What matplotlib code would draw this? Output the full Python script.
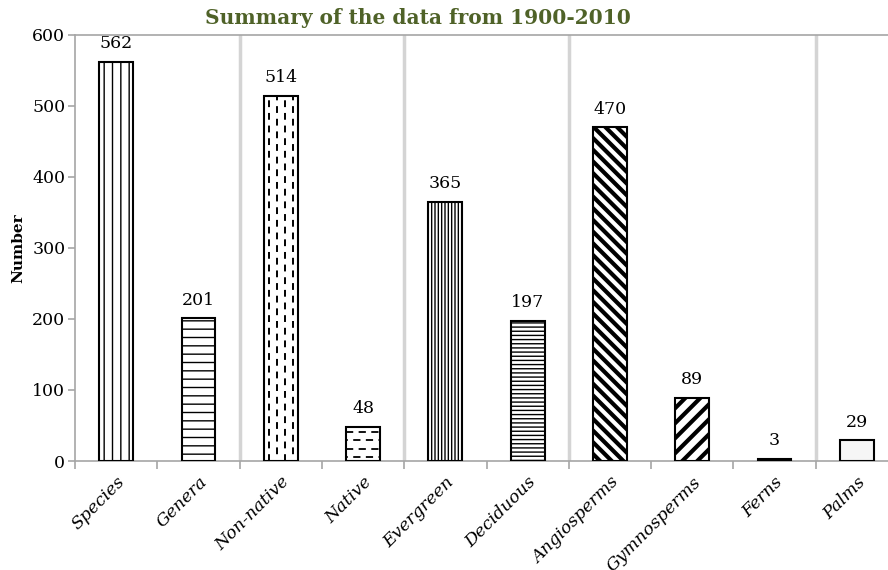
import matplotlib
matplotlib.use("Agg")
import matplotlib.pyplot as plt
import numpy as np

categories = ["Species", "Genera", "Non-native", "Native", "Evergreen",
              "Deciduous", "Angiosperms", "Gymnosperms", "Ferns", "Palms"]
values = [562, 201, 514, 48, 365, 197, 470, 89, 3, 29]
hatches = ["||", "--", "", "", "|||||", "----", "", "", "", ""]
title = "Summary of the data from 1900-2010"
ylabel = "Number"

FIG_W, FIG_H, DPI = 888, 570, 100
fig = plt.figure(figsize=(FIG_W / DPI, FIG_H / DPI), dpi=DPI)
L, R, T, B = 75, 898, 35, 461
ax = fig.add_axes([L / FIG_W, 1 - B / FIG_H, (R - L) / FIG_W, (B - T) / FIG_H])

serif = "DejaVu Serif"
grey = "#a6a6a6"

x = np.arange(len(categories))
bw = 0.41
bars = ax.bar(x, values, width=bw, facecolor="white", edgecolor="black",
              linewidth=1.5, zorder=3)
for b, h in zip(bars, hatches):
    if h:
        b.set_hatch(h)
bars[-1].set_facecolor("#f6f6f6")

ax.set_xlim(-0.5, len(categories) - 0.5)
ax.set_ylim(0, 600)

# pixel scales
px_x = (R - L) / len(categories)
px_y = (B - T) / 600.0


def clip_lines(bar, segs, **kw):
    for (xs, ys, extra) in segs:
        kk = dict(kw)
        kk.update(extra)
        ln, = ax.plot(xs, ys, zorder=3.5, solid_capstyle="butt", **kk)
        ln.set_clip_path(bar)


# Non-native: vertical dashed lines
b = bars[2]
x0, w, hgt = b.get_x(), b.get_width(), b.get_height()
segs = []
for k, f in enumerate([0.16, 0.39, 0.62, 0.85]):
    segs.append(([x0 + f * w] * 2, [0, hgt],
                 dict(linestyle=(0 if k % 2 == 0 else 3.0, (3.5, 3)))))
clip_lines(b, segs, color="black", lw=1.4)

# Native: horizontal dashed lines
b = bars[3]
x0, w, hgt = b.get_x(), b.get_width(), b.get_height()
segs = []
step = 8.3 / px_y
yy = hgt - 5 / px_y
k = 0
while yy > 0:
    segs.append(([x0, x0 + w], [yy, yy],
                 dict(linestyle=(0 if k % 2 == 0 else 3, (4, 3)))))
    yy -= step
    k += 1
clip_lines(b, segs, color="black", lw=1.3)


def diag(bar, period_px, direction, lw):
    x0, w, hgt = bar.get_x(), bar.get_width(), bar.get_height()
    wpx = w * px_x
    hpx = hgt * px_y
    segs = []
    c = -hpx - wpx
    while c < hpx + wpx:
        xs_px = np.array([-hpx, wpx + hpx])
        ys_px = direction * xs_px + c
        segs.append((x0 + xs_px / px_x, ys_px / px_y, {}))
        c += period_px
    clip_lines(bar, segs, color="black", lw=lw)


diag(bars[6], 11.7, -1, 3.0)
diag(bars[7], 15.0, 1, 3.0)

# value labels
for b, v in zip(bars, values):
    ax.annotate(str(v), (b.get_x() + b.get_width() / 2, v), xytext=(0, 7),
                textcoords="offset points", ha="center", va="bottom",
                fontsize=12.5, family=serif, zorder=5)

# gridlines
for gx in [1.5, 3.5, 5.5, 8.5]:
    ax.axvline(gx, color="#d4d4d4", lw=2.5, zorder=1)

for s in ["left", "bottom", "top"]:
    ax.spines[s].set_color(grey)
    ax.spines[s].set_linewidth(1.2)
ax.spines["right"].set_visible(False)

ax.set_yticks(range(0, 601, 100))
ax.tick_params(axis="y", colors=grey, length=5, width=1.2, labelcolor="black",
               labelsize=12.5, pad=2)
for lab in ax.get_yticklabels():
    lab.set_family(serif)

ax.set_xticks(x)
ax.set_xticklabels(categories, rotation=45, ha="right", rotation_mode="anchor",
                   family=serif, style="italic", fontsize=12.5)
ax.tick_params(axis="x", length=0, pad=9)
ax.set_xticks(np.arange(-0.5, len(categories), 1.0), minor=True)
ax.tick_params(axis="x", which="minor", length=6, width=1.2, colors=grey)

fig.text(0.471, 1 - 18 / FIG_H, title, ha="center", va="center",
         fontsize=14.5, fontweight="bold", family=serif, color="#4f6228")
fig.text(18 / FIG_W, 1 - 248 / FIG_H, ylabel, rotation=90, ha="center",
         va="center", fontsize=11, fontweight="bold", family=serif)

fig.savefig("out.png", dpi=DPI)
